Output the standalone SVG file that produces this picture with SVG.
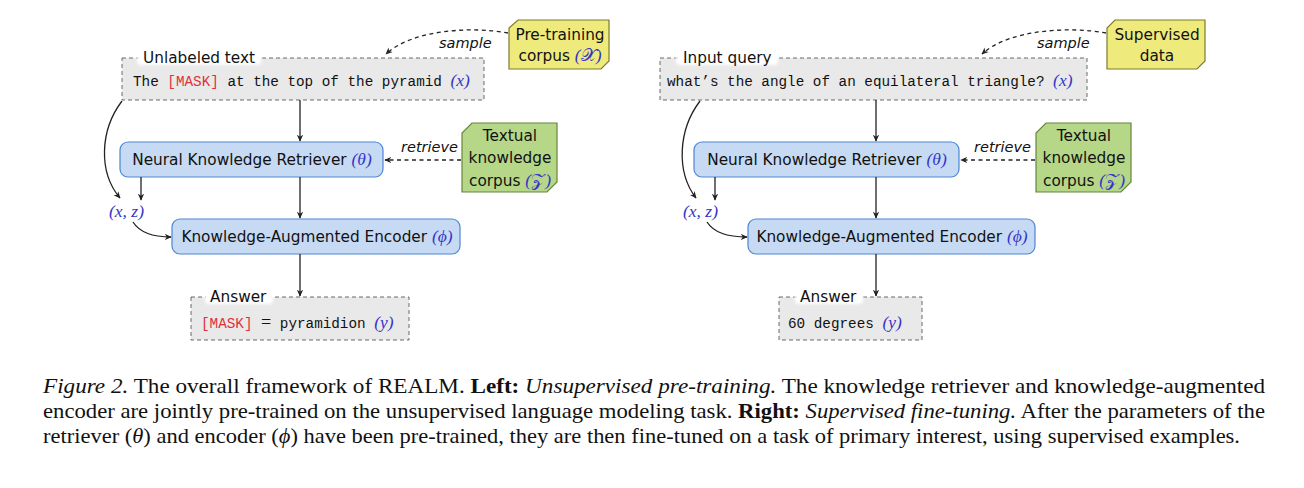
<svg xmlns="http://www.w3.org/2000/svg" width="1304" height="488" viewBox="0 0 1304 488">
<style>
.sans{font-family:"DejaVu Sans","Liberation Sans",sans-serif;font-size:15.3px;fill:#111}
.mono{font-family:"Liberation Mono","DejaVu Sans Mono",monospace;font-size:14.3px;fill:#111}
.math{font-family:"Liberation Serif","DejaVu Serif",serif;font-style:italic;font-size:17.5px;fill:#3535c8}
.cal{font-family:"DejaVu Sans",sans-serif;font-style:normal}
.red{fill:#e0303a}
.dbox{fill:#e9e9e9;stroke:#6a6a6a;stroke-width:1;stroke-dasharray:4,3}
.bbox{fill:#c6daf4;stroke:#4f86d4;stroke-width:1.2}
.ybox{fill:#eeea7c;stroke:#7d7b2e;stroke-width:1.2}
.gbox{fill:#b6d788;stroke:#65863a;stroke-width:1.2}
.lbl{fill:#fff}
.edge{fill:none;stroke:#222;stroke-width:1.3}
.dash{fill:none;stroke:#222;stroke-width:1.3;stroke-dasharray:4,3.5}
.it{font-family:"DejaVu Sans","Liberation Sans",sans-serif;font-style:italic;font-size:14.5px;fill:#111}
.cap{font-family:"Liberation Serif","Times New Roman",serif;font-size:21px;fill:#111}
</style>
<defs>
<marker id="ah" viewBox="0 0 10 10" refX="9" refY="5" markerWidth="7" markerHeight="7" orient="auto" markerUnits="userSpaceOnUse">
<path d="M0,0.5 L10,5 L0,9.5 L3,5 Z" fill="#222"/>
</marker>
<filter id="blur" x="-10%" y="-30%" width="120%" height="160%"><feGaussianBlur stdDeviation="1.5"/></filter>
</defs>

<!-- LEFT PANEL -->
<g id="unlabeled">
<rect class="dbox" x="122" y="58" width="362" height="42"/>
<rect class="lbl" x="137" y="48" width="124" height="17" rx="4" filter="url(#blur)"/>
<text class="sans" x="143" y="63">Unlabeled text</text>
<text class="mono" x="133" y="86">The <tspan class="red">[MASK]</tspan> at the top of the pyramid <tspan class="math">(x)</tspan></text>
</g>
<g id="pretrain">
<path class="ybox" d="M518,20 L609,20 L609,61 L601,69 L509,69 L509,28 Z"/>
<text class="sans" x="560" y="40" text-anchor="middle">Pre-training</text>
<text class="sans" x="560" y="61" text-anchor="middle">corpus <tspan class="math">(<tspan class="cal">𝒳</tspan>)</tspan></text>
</g>
<g id="retriever-l">
<rect class="bbox" x="120" y="142" width="263" height="35" rx="8"/>
<text class="sans" x="252" y="165" text-anchor="middle">Neural Knowledge Retriever <tspan class="math">(θ)</tspan></text>
</g>
<g id="corpus-l">
<path class="gbox" d="M472,123 L557,123 L557,182 L547,192 L462,192 L462,133 Z"/>
<text class="sans" x="510" y="141" text-anchor="middle">Textual</text>
<text class="sans" x="510" y="163" text-anchor="middle">knowledge</text>
<text class="sans" x="510" y="186" text-anchor="middle">corpus <tspan class="math">(<tspan class="cal">𝒵</tspan>)</tspan></text>
</g>
<g id="xz-l"><text class="math" x="109" y="217">(x, z)</text></g>
<g id="encoder-l">
<rect class="bbox" x="172" y="219" width="288" height="35" rx="8"/>
<text class="sans" x="317" y="242" text-anchor="middle">Knowledge-Augmented Encoder <tspan class="math">(ϕ)</tspan></text>
</g>
<g id="answer-l">
<rect class="dbox" x="191" y="297" width="218" height="43"/>
<rect class="lbl" x="205" y="287" width="68" height="17" rx="4" filter="url(#blur)"/>
<text class="sans" x="210" y="302">Answer</text>
<text class="mono" x="201" y="328"><tspan class="red">[MASK]</tspan> <tspan style="font-family:'Liberation Serif',serif;font-size:18px">=</tspan> pyramidion <tspan class="math">(y)</tspan></text>
</g>

<!-- RIGHT PANEL -->
<g id="query">
<rect class="dbox" x="660" y="58" width="427" height="42"/>
<rect class="lbl" x="676" y="48" width="102" height="17" rx="4" filter="url(#blur)"/>
<text class="sans" x="683" y="63">Input query</text>
<text class="mono" x="667" y="86">what’s the angle of an equilateral triangle? <tspan class="math">(x)</tspan></text>
</g>
<g id="supervised">
<path class="ybox" d="M1115,20 L1205,20 L1205,61 L1197,69 L1107,69 L1107,28 Z"/>
<text class="sans" x="1157" y="40" text-anchor="middle">Supervised</text>
<text class="sans" x="1157" y="61" text-anchor="middle">data</text>
</g>
<g id="retriever-r">
<rect class="bbox" x="694" y="142" width="265" height="35" rx="8"/>
<text class="sans" x="827" y="165" text-anchor="middle">Neural Knowledge Retriever <tspan class="math">(θ)</tspan></text>
</g>
<g id="corpus-r">
<path class="gbox" d="M1046,123 L1131,123 L1131,182 L1121,192 L1036,192 L1036,133 Z"/>
<text class="sans" x="1084" y="141" text-anchor="middle">Textual</text>
<text class="sans" x="1084" y="163" text-anchor="middle">knowledge</text>
<text class="sans" x="1084" y="186" text-anchor="middle">corpus <tspan class="math">(<tspan class="cal">𝒵</tspan>)</tspan></text>
</g>
<g id="xz-r"><text class="math" x="683" y="217">(x, z)</text></g>
<g id="encoder-r">
<rect class="bbox" x="748" y="219" width="287" height="35" rx="8"/>
<text class="sans" x="892" y="242" text-anchor="middle">Knowledge-Augmented Encoder <tspan class="math">(ϕ)</tspan></text>
</g>
<g id="answer-r">
<rect class="dbox" x="779" y="297" width="143" height="43"/>
<rect class="lbl" x="795" y="287" width="68" height="17" rx="4" filter="url(#blur)"/>
<text class="sans" x="800" y="302">Answer</text>
<text class="mono" x="788" y="328">60 degrees <tspan class="math">(y)</tspan></text>
</g>

<g id="connectors">
<path class="dash" d="M508,33 C470,26 412,30 386,54" marker-end="url(#ah)"/>
<text class="it" x="439" y="48">sample</text>
<line class="edge" x1="300" y1="100" x2="300" y2="141" marker-end="url(#ah)"/>
<line class="dash" x1="461" y1="160" x2="385" y2="160" marker-end="url(#ah)"/>
<text class="it" x="401" y="152">retrieve</text>
<line class="edge" x1="300" y1="177" x2="300" y2="218" marker-end="url(#ah)"/>
<line class="edge" x1="141" y1="177" x2="141" y2="200" marker-end="url(#ah)"/>
<path class="edge" d="M122,101 C100,130 98,172 120,198" marker-end="url(#ah)"/>
<path class="edge" d="M133,222 C140,233 154,237 171,237" marker-end="url(#ah)"/>
<line class="edge" x1="300" y1="254" x2="300" y2="296" marker-end="url(#ah)"/>

<path class="dash" d="M1106,33 C1068,26 1008,30 982,54" marker-end="url(#ah)"/>
<text class="it" x="1037" y="48">sample</text>
<line class="edge" x1="876" y1="100" x2="876" y2="141" marker-end="url(#ah)"/>
<line class="dash" x1="1035" y1="160" x2="961" y2="160" marker-end="url(#ah)"/>
<text class="it" x="974" y="152">retrieve</text>
<line class="edge" x1="876" y1="177" x2="876" y2="218" marker-end="url(#ah)"/>
<line class="edge" x1="715" y1="177" x2="715" y2="200" marker-end="url(#ah)"/>
<path class="edge" d="M700,101 C678,130 676,172 696,198" marker-end="url(#ah)"/>
<path class="edge" d="M707,222 C714,233 729,237 747,237" marker-end="url(#ah)"/>
<line class="edge" x1="876" y1="254" x2="876" y2="296" marker-end="url(#ah)"/>
</g>

<g id="caption">
<text class="cap" x="43" y="393" textLength="1222" lengthAdjust="spacingAndGlyphs"><tspan font-style="italic">Figure 2.</tspan> The overall framework of REALM. <tspan font-weight="bold">Left:</tspan> <tspan font-style="italic">Unsupervised pre-training.</tspan>  The knowledge retriever and knowledge-augmented</text>
<text class="cap" x="43" y="418" textLength="1222" lengthAdjust="spacingAndGlyphs">encoder are jointly pre-trained on the unsupervised language modeling task. <tspan font-weight="bold">Right:</tspan> <tspan font-style="italic">Supervised fine-tuning.</tspan> After the parameters of the</text>
<text class="cap" x="43" y="443" textLength="1197" lengthAdjust="spacingAndGlyphs">retriever (<tspan font-style="italic">θ</tspan>) and encoder (<tspan font-style="italic">ϕ</tspan>) have been pre-trained, they are then fine-tuned on a task of primary interest, using supervised examples.</text>
</g>
</svg>
